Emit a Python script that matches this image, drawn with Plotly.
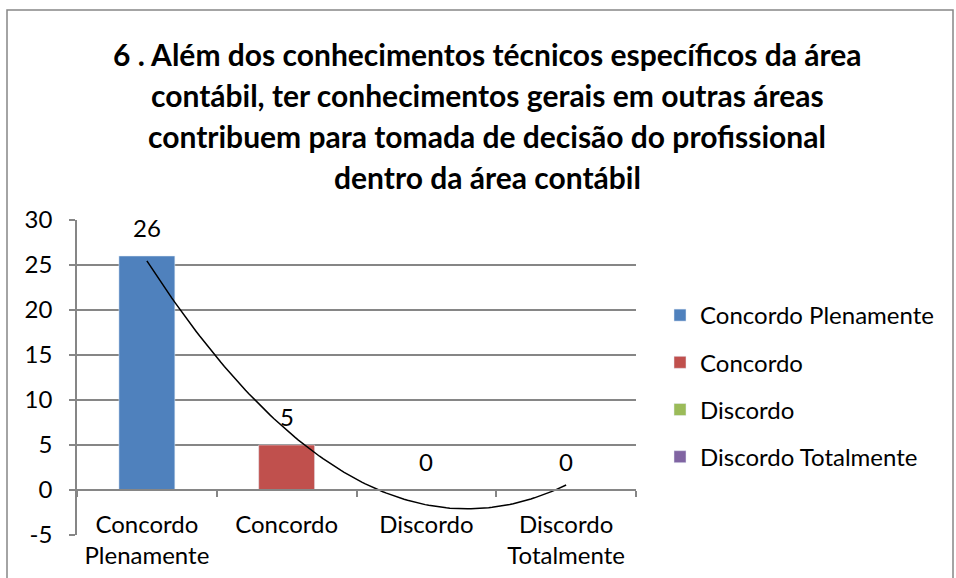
import numpy as np
import plotly.graph_objs as go

categories = ["Concordo Plenamente", "Concordo", "Discordo", "Discordo Totalmente"]
tick_labels = ["Concordo<br>Plenamente", "Concordo", "Discordo", "Discordo<br>Totalmente"]
values = [26, 5, 0, 0]
colors = ["#4f81bd", "#c0504d", "#9bbb59", "#8064a2"]
y_ticks = [-5, 0, 5, 10, 15, 20, 25, 30]

title_lines = ["6 . Além dos conhecimentos técnicos específicos da área",
               "contábil, ter conhecimentos gerais em outras áreas",
               "contribuem para tomada de decisão do profissional",
               "dentro da área contábil"]

positions = np.arange(1, len(values) + 1)
grey = "#868686"
font_name = "Lato, Noto Sans, sans-serif"

fig = go.Figure()
for i, (cat, val, col) in enumerate(zip(categories, values, colors)):
    fig.add_trace(go.Bar(
        x=[positions[i]], y=[val], name=cat, marker_color=col,
        width=0.4, legendgroup=cat, showlegend=True,
    ))

# polynomial trendline (order 2), like the Excel one
coef = np.polyfit(positions, values, 2)
xs = np.linspace(positions[0], positions[-1], 120)
fig.add_trace(go.Scatter(
    x=xs, y=np.polyval(coef, xs), mode="lines",
    line=dict(color="black", width=1.5), showlegend=False, hoverinfo="skip",
))

# data labels above each bar
for p, v in zip(positions, values):
    fig.add_annotation(x=p, y=v, text=str(v), showarrow=False, yanchor="bottom",
                       yshift=12, font=dict(size=24, color="black", family=font_name))

# title, one line per annotation to get Excel's line spacing
for k, line in enumerate(title_lines):
    fig.add_annotation(xref="paper", yref="paper", x=(487 - 77) / 559,
                       y=(535 - (54 + 41 * k)) / 315, text=line, showarrow=False,
                       xanchor="center", yanchor="middle",
                       font=dict(size=30, color="black", family=font_name, weight="bold"))

# outer chart border
fig.add_shape(type="rect", xref="paper", yref="paper",
              x0=(7 - 77) / 559, x1=(953 - 77) / 559,
              y0=(535 - 600) / 315, y1=(535 - 10) / 315,
              line=dict(color=grey, width=1.5), layer="below")

layout = go.Layout(
    font=dict(size=24, color="black", family=font_name),
    width=956,
    height=578,
    margin=dict(l=77, r=320, t=220, b=43, autoexpand=False),
    plot_bgcolor="white",
    paper_bgcolor="white",
    barmode="overlay",
    showlegend=True,
    legend=dict(x=(660 - 77) / 559, y=(535 - 293) / 315, xanchor="left", yanchor="top",
                font=dict(size=24), tracegroupgap=13),
    xaxis=dict(
        range=[0.5, 4.5], tickmode="array", tickvals=positions, ticktext=tick_labels,
        ticks="", showgrid=False, zeroline=False, showline=True, linecolor=grey,
        linewidth=1.5, anchor="free", position=5 / 35, ticklabelstandoff=13,
        automargin=False,
        minor=dict(tickmode="array", tickvals=list(positions - 0.5) + [positions[-1] + 0.5],
                   ticks="outside", ticklen=6, tickcolor=grey, tickwidth=1.5, showgrid=False),
    ),
    yaxis=dict(
        range=[-5, 30], tickmode="array", tickvals=y_ticks, ticktext=[str(t) for t in y_ticks],
        showgrid=True, gridcolor=grey, gridwidth=1.5, automargin=False,
        zeroline=False, showline=True, linecolor=grey, linewidth=1.5,
        ticks="outside", ticklen=6, tickcolor=grey, tickwidth=1.5, ticklabelstandoff=12,
    ),
)
fig.update_layout(layout)
fig.write_html("out.html", config={"displayModeBar": False},
               post_script="document.body.style.margin = '0';")
